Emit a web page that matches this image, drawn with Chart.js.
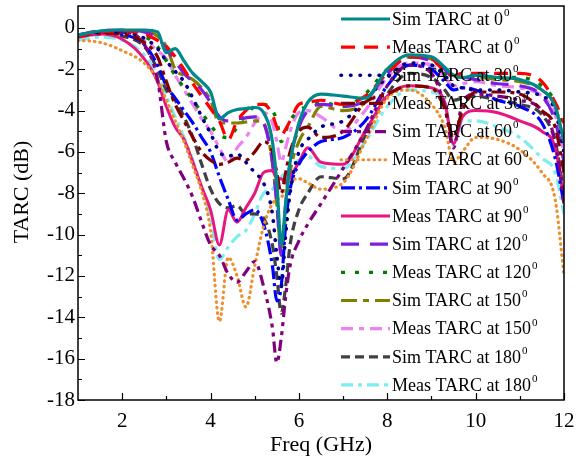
<!DOCTYPE html>
<html>
<head>
<meta charset="utf-8">
<script src="https://cdn.jsdelivr.net/npm/chart.js@4.4.1/dist/chart.umd.min.js"></script>
<style>
  html,body{margin:0;padding:0;background:#fff;}
  #wrap{position:relative;width:578px;height:461px;}
</style>
</head>
<body>
<div id="wrap"><canvas id="c"></canvas></div>
<script>
// ---------- data ----------
const freq = [1.0,1.5,2.0,2.5,2.8,3.0,3.2,3.4,3.6,3.8,4.0,4.2,4.4,4.6,4.8,5.0,5.2,5.4,5.5,5.6,5.7,5.8,6.0,6.2,6.5,7.0,7.5,8.0,8.5,9.0,9.3,9.5,9.7,10.0,10.5,11.0,11.5,11.8,12.0];

const sim0    = [-0.35,-0.15,-0.1,-0.1,-0.2,-1.2,-1.0,-1.6,-2.2,-2.6,-3.1,-4.4,-4.1,-3.95,-3.9,-3.85,-4.1,-5.5,-7.5,-10.5,-8.5,-6.5,-4.6,-3.6,-3.2,-3.3,-3.4,-2.0,-1.3,-1.4,-1.9,-2.3,-2.4,-2.3,-2.4,-2.5,-3.0,-3.8,-5.5];
const meas0   = [-0.4,-0.2,-0.15,-0.3,-0.6,-0.9,-1.4,-2.0,-2.7,-3.3,-3.9,-4.5,-5.4,-4.5,-4.0,-3.7,-3.7,-4.2,-4.8,-5.2,-4.9,-4.5,-3.7,-3.6,-3.5,-3.7,-3.3,-2.2,-1.4,-1.5,-2.1,-2.3,-2.2,-2.2,-2.2,-2.2,-2.6,-3.6,-4.6];
const sim30   = [-0.4,-0.2,-0.2,-0.5,-1.0,-1.6,-2.1,-2.6,-3.4,-4.3,-5.1,-6.0,-6.2,-6.1,-6.5,-7.0,-7.5,-9.0,-11.0,-12.5,-10.0,-8.0,-6.0,-5.4,-4.8,-4.5,-3.5,-2.4,-1.7,-1.8,-2.3,-2.8,-2.9,-3.0,-3.0,-3.1,-3.3,-4.0,-6.0];
const meas30  = [-0.4,-0.25,-0.3,-0.7,-1.4,-2.6,-3.7,-4.5,-5.3,-6.0,-6.4,-6.6,-6.5,-6.3,-6.4,-6.0,-5.5,-6.0,-7.0,-8.0,-7.0,-6.0,-5.0,-4.8,-5.3,-5.0,-3.6,-3.2,-2.8,-2.9,-3.9,-5.3,-4.0,-3.1,-3.1,-3.2,-4.0,-4.8,-7.0];
const sim60   = [-0.4,-0.2,-0.2,-0.8,-2.5,-5.5,-6.5,-7.3,-8.2,-9.4,-10.5,-11.0,-11.9,-12.3,-11.8,-11.3,-12.5,-14.5,-16.2,-15.0,-13.0,-11.5,-10.3,-9.5,-8.5,-6.8,-5.0,-2.8,-1.8,-2.2,-3.8,-5.8,-3.6,-3.2,-3.3,-3.5,-4.0,-5.5,-8.5];
const meas60  = [-0.6,-0.7,-1.1,-1.7,-2.5,-3.5,-4.5,-5.5,-6.7,-7.9,-9.8,-14.2,-11.1,-12.0,-13.5,-11.5,-9.6,-8.5,-8.3,-8.2,-7.8,-7.4,-7.3,-7.5,-7.8,-7.5,-5.5,-3.4,-3.0,-3.7,-4.8,-6.5,-6.0,-5.3,-5.4,-5.9,-7.0,-8.3,-12.0];
const sim90   = [-0.4,-0.2,-0.3,-0.8,-1.8,-2.8,-3.4,-4.0,-4.6,-5.3,-6.0,-7.2,-8.3,-9.3,-9.0,-8.8,-9.5,-11.5,-13.2,-12.5,-9.5,-7.8,-6.6,-6.0,-5.5,-5.3,-4.5,-2.8,-1.8,-2.0,-2.6,-3.0,-2.9,-3.0,-3.5,-3.8,-4.6,-6.3,-8.5];
const meas90  = [-0.45,-0.3,-0.55,-1.5,-2.6,-3.8,-4.8,-5.4,-6.5,-7.7,-8.8,-10.5,-8.8,-9.4,-8.7,-8.0,-7.0,-6.9,-7.3,-7.3,-7.5,-7.2,-6.5,-5.8,-6.5,-6.6,-5.0,-3.3,-2.8,-2.9,-3.6,-5.6,-4.3,-4.0,-4.1,-4.5,-5.0,-5.8,-8.3];
const sim120  = [-0.35,-0.15,-0.1,-0.2,-0.5,-1.0,-1.6,-2.2,-2.6,-3.0,-3.6,-4.3,-4.5,-4.4,-4.35,-4.3,-4.6,-6.5,-8.5,-11.0,-8.5,-6.5,-4.8,-4.0,-3.7,-3.8,-3.5,-2.2,-1.4,-1.6,-2.0,-2.4,-2.4,-2.5,-2.7,-2.8,-3.3,-4.5,-6.5];
const meas120 = [-0.4,-0.2,-0.2,-0.4,-0.9,-1.6,-2.3,-2.9,-3.5,-4.1,-4.7,-5.2,-5.3,-4.8,-4.2,-3.8,-3.7,-4.0,-4.5,-5.5,-5.0,-4.5,-4.0,-3.8,-3.6,-3.8,-3.2,-2.0,-1.4,-1.5,-2.2,-2.4,-2.3,-2.3,-2.4,-2.4,-2.8,-3.6,-5.0];
const sim150  = [-0.35,-0.15,-0.15,-0.15,-0.4,-0.9,-2.0,-2.3,-2.5,-2.9,-3.5,-4.6,-4.6,-4.6,-4.55,-4.5,-4.6,-6.5,-8.5,-10.9,-9.0,-7.0,-5.5,-4.8,-3.8,-4.0,-3.6,-2.0,-1.4,-1.5,-2.0,-2.3,-2.4,-2.4,-2.5,-2.6,-3.0,-3.8,-5.5];
const meas150 = [-0.4,-0.25,-0.25,-0.6,-1.1,-1.5,-2.3,-3.0,-3.7,-4.4,-5.0,-5.8,-6.5,-5.8,-5.3,-4.6,-4.1,-4.6,-5.5,-6.5,-5.8,-5.0,-4.1,-4.0,-4.3,-5.0,-4.0,-2.4,-1.7,-1.8,-2.4,-2.8,-2.7,-2.6,-2.8,-2.9,-3.3,-4.2,-6.0];
const sim180  = [-0.4,-0.3,-0.4,-0.9,-2.0,-3.0,-3.5,-4.3,-5.3,-6.6,-7.8,-8.5,-8.7,-8.6,-9.0,-9.0,-9.2,-10.5,-12.0,-13.8,-12.5,-10.5,-8.8,-8.0,-7.2,-7.3,-5.2,-3.2,-2.2,-2.4,-3.0,-3.5,-3.4,-3.3,-3.5,-3.7,-4.2,-5.5,-8.0];
const meas180 = [-0.6,-0.45,-0.6,-1.3,-2.3,-3.3,-4.3,-5.3,-6.4,-7.7,-9.2,-11.2,-10.6,-10.1,-9.8,-9.0,-8.0,-7.8,-7.5,-7.2,-7.0,-6.7,-6.4,-6.2,-6.7,-6.8,-5.5,-3.8,-3.0,-3.1,-3.6,-5.7,-4.5,-4.5,-4.8,-5.3,-6.3,-7.0,-9.0];

const seriesNames = ['Sim TARC at 0','Meas TARC at 0','Sim TARC at 30','Meas TARC at 30','Sim TARC at 60','Meas TARC at 60','Sim TARC at 90','Meas TARC at 90','Sim TARC at 120','Meas TARC at 120','Sim TARC at 150','Meas TARC at 150','Sim TARC at 180','Meas TARC at 180'];
const seriesSup = '0';
const xTickValues = [2,4,6,8,10,12];
const xMinorValues = [3,5,7,9,11];
const yTickValues = [0,-2,-4,-6,-8,-10,-12,-14,-16,-18];
const yMinorValues = [-1,-3,-5,-7,-9,-11,-13,-15,-17];
const xTitle = 'Freq (GHz)';
const yTitle = 'TARC (dB)';

// ---------- styles ----------
const seriesValues = [sim0,meas0,sim30,meas30,sim60,meas60,sim90,meas90,sim120,meas120,sim150,meas150,sim180,meas180];
const styles = [
  {c:'#00898B', d:[], w:3.2, cap:'butt'},
  {c:'#FF0000', d:[14,9], w:3.2, cap:'butt'},
  {c:'#00008B', d:[0.5,9], w:3.6, cap:'round'},
  {c:'#800000', d:[14,5,4,5], w:3.2, cap:'butt'},
  {c:'#800080', d:[11,5,4,5,4,5], w:3.2, cap:'butt'},
  {c:'#EE8E2C', d:[0.5,5], w:3.2, cap:'round'},
  {c:'#0000FF', d:[14,4,3,4], w:3.2, cap:'butt'},
  {c:'#E8177F', d:[], w:3.0, cap:'butt'},
  {c:'#7A1FE0', d:[18,11], w:3.2, cap:'butt'},
  {c:'#008000', d:[4,10], w:3.4, cap:'butt'},
  {c:'#808000', d:[16,6,6,6], w:3.2, cap:'butt'},
  {c:'#EE82EE', d:[12,6,5,6], w:3.2, cap:'butt'},
  {c:'#404040', d:[9,5], w:3.2, cap:'butt'},
  {c:'#7FEDED', d:[12,5,4,5], w:3.2, cap:'butt'}
];

const datasets = seriesValues.map((vals,k)=>({
  label: seriesNames[k],
  data: freq.map((f,i)=>({x:f, y:vals[i]})),
  borderColor: styles[k].c,
  backgroundColor: styles[k].c,
  borderDash: styles[k].d,
  borderWidth: styles[k].w,
  borderCapStyle: styles[k].cap,
  pointRadius: 0,
  cubicInterpolationMode: 'monotone',
  fill: false
}));

const FONT = "'Liberation Serif','Times New Roman',serif";

const decor = {
  id: 'decor',
  afterDatasetsDraw(chart){
    const ctx = chart.ctx, a = chart.chartArea;
    const xs = chart.scales.x, ys = chart.scales.y;
    ctx.save();
    ctx.setLineDash([]);
    ctx.strokeStyle = '#000';
    ctx.lineWidth = 1.5;
    ctx.strokeRect(a.left, a.top, a.right-a.left, a.bottom-a.top);
    ctx.lineWidth = 1.2;
    ctx.beginPath();
    xTickValues.forEach(v=>{const p=Math.round(xs.getPixelForValue(v))+0.5; ctx.moveTo(p,a.bottom); ctx.lineTo(p,a.bottom-7);});
    xMinorValues.forEach(v=>{const p=Math.round(xs.getPixelForValue(v))+0.5; ctx.moveTo(p,a.bottom); ctx.lineTo(p,a.bottom-4);});
    yTickValues.forEach(v=>{const p=Math.round(ys.getPixelForValue(v))+0.5; ctx.moveTo(a.left,p); ctx.lineTo(a.left+7,p);});
    yMinorValues.forEach(v=>{const p=Math.round(ys.getPixelForValue(v))+0.5; ctx.moveTo(a.left,p); ctx.lineTo(a.left+4,p);});
    ctx.stroke();

    // legend
    chart.data.datasets.forEach((ds,i)=>{
      const y = 19 + 28.15*i;
      ctx.save();
      ctx.strokeStyle = ds.borderColor;
      ctx.lineWidth = ds.borderWidth;
      ctx.lineCap = ds.borderCapStyle;
      ctx.setLineDash(ds.borderDash);
      ctx.lineDashOffset = 0;
      ctx.beginPath(); ctx.moveTo(341,y); ctx.lineTo(390,y); ctx.stroke();
      ctx.restore();
      ctx.fillStyle = '#000';
      ctx.textBaseline = 'middle';
      ctx.textAlign = 'left';
      ctx.font = '18px ' + FONT;
      ctx.fillText(ds.label, 392, y+1);
      const w = ctx.measureText(ds.label).width;
      ctx.font = '11px ' + FONT;
      ctx.fillText(seriesSup, 392+w+1, y-6);
    });

    // axis titles
    ctx.fillStyle = '#000';
    ctx.font = '22px ' + FONT;
    ctx.textAlign = 'center';
    ctx.textBaseline = 'middle';
    ctx.fillText(xTitle, (a.left+a.right)/2, 445);
    ctx.translate(22, 192);
    ctx.rotate(-Math.PI/2);
    ctx.fillText(yTitle, 0, 0);
    ctx.restore();
  }
};

new Chart(document.getElementById('c'), {
  type: 'line',
  data: { datasets },
  options: {
    responsive: true,
    maintainAspectRatio: false,
    animation: false,
    layout: { padding: { top: 6, right: 14, left: 0, bottom: 0 } },
    plugins: { legend: { display: false }, tooltip: { enabled: false } },
    scales: {
      x: {
        type: 'linear', min: 1, max: 12,
        afterBuildTicks: s => { s.ticks = xTickValues.map(v=>({value:v})); },
        afterFit: s => { s.height = 61; s.paddingLeft = 0; s.paddingRight = 0; },
        grid: { display: false, drawTicks: false },
        border: { display: false },
        ticks: { color: '#000', font: { family: FONT, size: 21 }, padding: 9, maxRotation: 0, autoSkip: false }
      },
      y: {
        type: 'linear', min: -18, max: 1.06,
        afterBuildTicks: s => { s.ticks = yTickValues.map(v=>({value:v})); },
        afterFit: s => { s.width = 78; s.paddingTop = 0; s.paddingBottom = 0; },
        grid: { display: false, drawTicks: false },
        border: { display: false },
        ticks: { color: '#000', font: { family: FONT, size: 21 }, padding: 3, autoSkip: false,
                 callback: v => String(v) }
      }
    }
  },
  plugins: [decor]
});
</script>
</body>
</html>
